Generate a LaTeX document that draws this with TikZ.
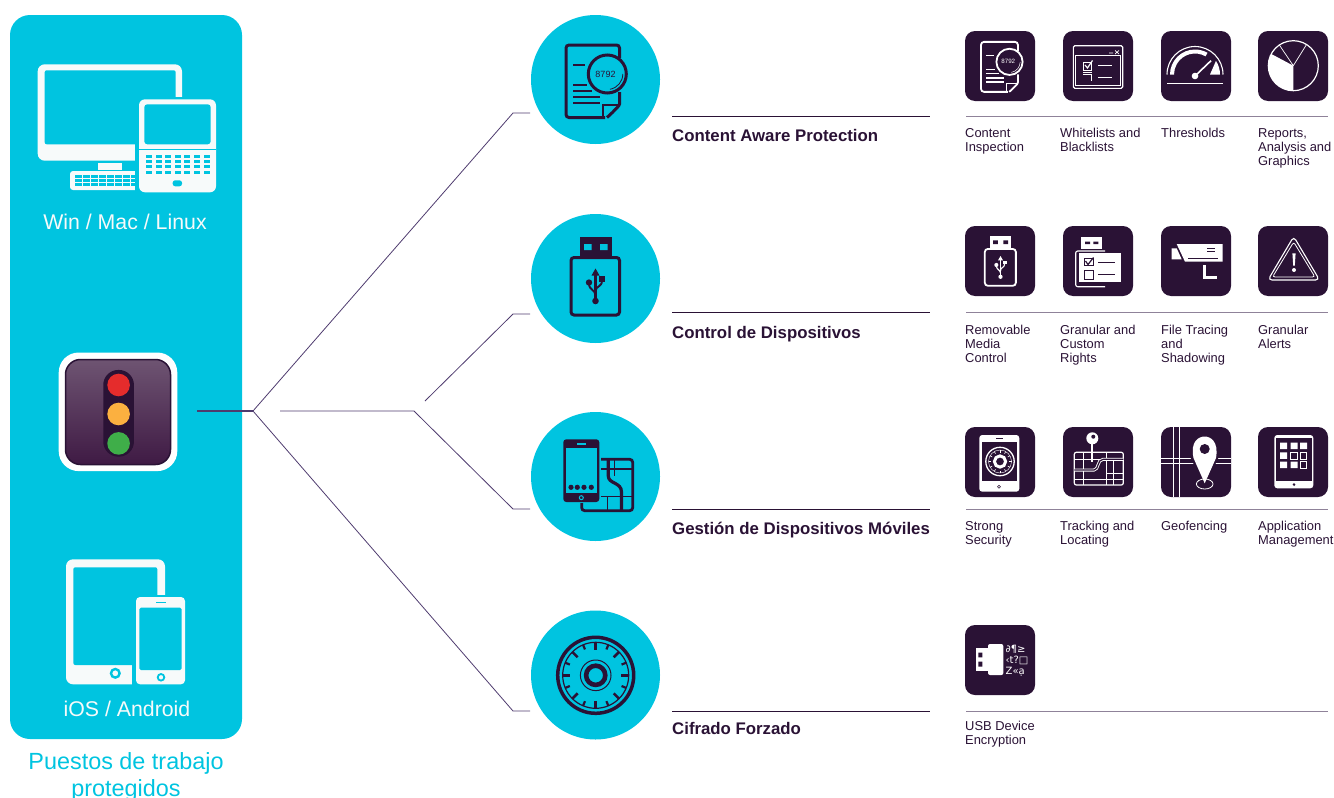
\documentclass[tikz,border=0pt]{standalone}
\usepackage{fontspec}
\setmainfont{Liberation Sans}
\newfontfamily\symfont{DejaVu Sans}
\usetikzlibrary{positioning}
\usetikzlibrary{calc}
\definecolor{brand_cyan}{HTML}{00C4E0}
\definecolor{brand_dark}{HTML}{2A1235}
\definecolor{line_purple}{HTML}{4E3B6E}
\definecolor{rule_grey}{HTML}{8F8299}
\definecolor{panel_ink}{HTML}{F7FAFA}
\definecolor{face_top}{HTML}{6E5472}
\definecolor{face_bottom}{HTML}{3F1A44}
\definecolor{lamp_r}{HTML}{E52C2C}
\definecolor{lamp_a}{HTML}{FBB040}
\definecolor{lamp_g}{HTML}{3FAE49}
\def\icw{1}
\colorlet{ink}{brand_dark}
\colorlet{paper}{brand_cyan}
\tikzset{
        % Line width and paint of the icons
        ic/.style={line width=#1*\icw pt},
        icon_w/.code={\def\icw{#1}},
        icon_paint/.code 2 args={\colorlet{ink}{#1}\colorlet{paper}{#2}},
        icon_big/.style={icon_paint={brand_dark}{brand_cyan},icon_w=1},
        icon_small/.style={icon_paint={white}{brand_dark},icon_w=0.6,scale=#1},
        % Left panel
        node_panel/.style={rectangle, fill=brand_cyan, rounded corners=20pt, minimum width=232pt, minimum height=724pt, inner sep=0pt},
        node_panel_text/.style={inner sep=0pt, text=panel_ink, font=\fontsize{21.3}{26}\selectfont},
        % Product circles
        node_circle/.style={circle, fill=brand_cyan, minimum size=129pt, inner sep=0pt},
        % Feature tiles
        node_tile/.style={rectangle, fill=brand_dark, rounded corners=10pt, minimum size=70pt, inner sep=0pt},
        % Traffic light lamps
        node_lamp/.style={circle, minimum size=22.6pt, inner sep=0pt},
        % Texts
        node_title/.style={anchor=base west, inner sep=0pt, text=brand_dark, font=\fontsize{16.8}{20}\bfseries\selectfont},
        node_caption/.style={anchor=north west, inner sep=0pt, align=left, text=brand_dark, font=\fontsize{12.9}{14}\selectfont},
        % Connectors
        line_main/.style={draw=line_purple, line width=0.8pt},
        line_stem/.style={draw=line_purple, line width=1.1pt},
        line_title/.style={draw=brand_dark, line width=0.7pt},
        line_rule/.style={draw=rule_grey, line width=0.8pt},
        % Document with lens
        doc_icon/.pic={
            \draw[ink, ic=3, rounded corners=3pt] (9,37.5) -- (-30,37.5) -- (-30,-35) -- (23.5,-35) -- (23.5,-22);
            \draw[ink, ic=3, rounded corners=1pt] (23.5,12) -- (23.5,25) .. controls (18,31) and (15,34) .. (11,37.5);
            \draw[ink, ic=2.2] (7,37) -- (7,25) -- (23.5,25);
            \foreach \ya/\xb in {-15/-11, 5/-9, 11/-4, 17/4, 23/4}
                \draw[ink, ic=2.8] (-23,\ya) -- (\xb,\ya);
            \draw[ink, fill=paper, ic=3] (11.3,-6) circle (19);
            \draw[ink, ic=0.8] (11.3,-6) ++(0:15.5) arc (0:80:15.5);
            \node[transform shape, inner sep=0pt, text=ink, font=\fontsize{9}{9}\selectfont] (digits) at (9.5,-6) {8792};
        },
        % USB stick
        usb_icon/.pic={
            \fill[ink] (-16,-41.5) rectangle (16,-21);
            \fill[paper] (-11.5,-34.5) rectangle (-4,-28.5) (4.5,-34.5) rectangle (12,-28.5);
            \draw[ink, ic=3, rounded corners=3pt] (-24.5,-21) rectangle (24,36.5);
            \draw[ink, ic=2.4] (0,-6) -- (0,22);
            \fill[ink] (0,-10) -- (-4,-3) -- (4,-3) -- cycle;
            \fill[ink] (0,22.5) circle (3.3) (-6.5,4) circle (3.2);
            \fill[ink] (3.7,-2.5) rectangle (9.5,3);
            \draw[ink, ic=1.9] (-6.5,5) .. controls (-6.5,12) and (0,11) .. (0,17);
            \draw[ink, ic=1.9] (6.5,2) .. controls (6.5,9) and (0,7) .. (0,13);
        },
        % Combination lock
        lock_icon/.pic={
            \draw[ink, ic=3.5] (0,0) circle (38);
            \draw[ink, ic=1.2] (0,0) circle (33);
            \foreach \a in {22.5,67.5,...,337.5}
                \draw[ink, ic=2.2] (\a:33) -- (\a:28);
            \foreach \a in {0,45,...,315}
                \draw[ink, ic=2.6] (\a:33) -- (\a:25.5);
            \draw[ink, ic=1] (0,0) circle (15.3);
            \draw[ink, ic=4.6] (0,0) circle (9.6);
        }
}

\begin{document}
\begin{tikzpicture}[x=1pt, y=-1pt]
    \useasboundingbox (0,0) rectangle (1334,798);

    % Left panel
    \node[node_panel] (panel) at (126,377) {};
    \node[node_panel_text] (desktop_label) at (125,222) {Win / Mac / Linux};
    \node[node_panel_text] (mobile_label) at (127,709) {iOS / Android};
    \node[inner sep=0pt, align=center, text=brand_cyan, font=\fontsize{23.4}{27}\selectfont] (panel_label) at (126,777) {Puestos de trabajo\\protegidos};

    % Monitor and keyboard
    \fill[panel_ink, rounded corners=7pt] (37.7,64.3) rectangle (182,160.7);
    \fill[brand_cyan, rounded corners=2pt] (44.7,70.3) rectangle (175.7,144.3);
    \fill[panel_ink] (98,163) rectangle (122,169.7);
    \fill[panel_ink, rounded corners=3pt] (70,171) rectangle (140,190);
    \foreach \ya in {175,179,183}
        \foreach \xa in {75,83,...,131}
            \fill[brand_cyan] (\xa,\ya) rectangle +(6.7,2.7);
    \fill[brand_cyan] (135,97) rectangle (222,196);
    % Notebook
    \fill[panel_ink, rounded corners=6pt] (139,99.3) rectangle (216,192.3);
    \fill[brand_cyan, rounded corners=3pt] (144.3,104.3) rectangle (210.7,144.3);
    \fill[brand_cyan] (139,149) rectangle (216,150);
    \foreach \ya in {154.7,160.2,165.2,171}
        \foreach \xa in {146,155.6,...,205}
            \fill[brand_cyan] (\xa,\ya) rectangle +(6,2.8);
    \fill[brand_cyan, rounded corners=2.5pt] (172.7,180.3) rectangle (182,186.3);

    % Traffic light
    \node[rectangle, fill=white, rounded corners=20pt, minimum size=118.6pt, inner sep=0pt] (agent_frame) at (118,411.8) {};
    \node[rectangle, draw=brand_dark, line width=1.5pt, top color=face_top, bottom color=face_bottom, rounded corners=15pt, minimum size=105pt, inner sep=0pt] (agent_face) at (118,412) {};
    \node[rectangle, fill=brand_dark, rounded corners=15pt, minimum width=30.7pt, minimum height=86.7pt, inner sep=0pt] (agent_housing) at (118.6,413.3) {};
    \node[node_lamp, fill=lamp_r] (lamp_red) at (118.6,385) {};
    \node[node_lamp, fill=lamp_a, below=6pt of lamp_red] (lamp_amber) {};
    \node[node_lamp, fill=lamp_g, below=6.4pt of lamp_amber] (lamp_green) {};

    % Tablet and phone
    \fill[panel_ink, rounded corners=7pt] (66,559.3) rectangle (165,684.3);
    \fill[brand_cyan, rounded corners=2pt] (73.3,567.3) rectangle (157.3,665);
    \fill[brand_cyan] (132,595) rectangle (190,690);
    \draw[brand_cyan, line width=2.4pt] (115.3,673.3) circle (4.3);
    \fill[panel_ink, rounded corners=4pt] (136,597) rectangle (185,684.3);
    \fill[brand_cyan, rounded corners=1.5pt] (139.3,607.7) rectangle (181.7,670);
    \draw[brand_cyan, line width=1.2pt] (156,602.7) -- (166,602.7);
    \draw[brand_cyan, line width=1.8pt] (161,677.3) circle (3.3);

    % Connectors
    \coordinate (stem_start) at (197,411);
    \coordinate (hub) at (253,411);
    \coordinate (branch_start) at (280,411);
    \coordinate (branch_knee) at (414,411);
    \coordinate (usb_start) at (425,401);
    \coordinate (bend_a) at (513,113);
    \coordinate (bend_b) at (513,314);
    \coordinate (bend_c) at (513,509);
    \coordinate (bend_d) at (513,711);
    \coordinate (lead_a) at (530,113);
    \coordinate (lead_b) at (530,314);
    \coordinate (lead_c) at (530,509);
    \coordinate (lead_d) at (530,711);
    \draw[line_stem] (stem_start) -- (hub);
    \draw[line_main] (hub) -- (bend_a) -- (lead_a);
    \draw[line_main] (hub) -- (bend_d) -- (lead_d);
    \draw[line_main] (usb_start) -- (bend_b) -- (lead_b);
    \draw[line_main] (branch_start) -- (branch_knee) -- (bend_c) -- (lead_c);

    % Product circles
    \foreach \cid/\cy in {a/79.5, b/278.5, c/476.5, d/675}
        \node[node_circle] (circle_\cid) at (595.5,\cy) {};
    \pic[icon_big] (doc_big) at (596,80) {doc_icon};
    \pic[icon_big] (usb_big) at (595.5,278.5) {usb_icon};
    \pic[icon_big] (lock_big) at (595.7,675.3) {lock_icon};

    % Phone and map
    \draw[brand_dark, line width=2.8pt, rounded corners=3pt] (601,459.3) -- (632.7,459.3) -- (632.7,510.7) -- (581.7,510.7) -- (581.7,503);
    \draw[brand_dark, line width=3.2pt] (608.3,459.3) -- (608.3,476) .. controls (608.3,484) and (621.5,482) .. (621.5,492) -- (621.5,510.7);
    \draw[brand_dark, line width=1.1pt] (601,469) -- (632.7,469) (614.3,459.3) -- (614.3,476) (601,496.7) -- (632.7,496.7) (607.3,496.7) -- (607.3,510.7);
    \fill[brand_dark, rounded corners=3pt] (563.3,439.3) rectangle (599.3,502);
    \fill[brand_cyan] (565.7,447.7) rectangle (597.3,493.3);
    \fill[brand_dark] (571,487.3) circle (2.6) (577.3,487.3) circle (2.6) (584,487.3) circle (2.6) (591.3,487.3) circle (2.6);
    \draw[brand_cyan, line width=1.2pt] (577,444) -- (586,444);
    \draw[brand_cyan, line width=1pt] (581.3,497.7) circle (2);

    % Header rules and texts
    \foreach \rid/\ry in {a/116, b/312, c/509, d/711} {
        \coordinate (title_start_\rid) at (672,\ry);
        \coordinate (title_end_\rid) at (930,\ry);
        \coordinate (rule_start_\rid) at (966,\ry);
        \coordinate (rule_end_\rid) at (1328,\ry);
        \draw[line_title] (title_start_\rid) -- (title_end_\rid);
        \draw[line_rule] (rule_start_\rid) -- (rule_end_\rid);
    }
    \node[node_title] (title_a) at (672,141) {Content Aware Protection};
    \node[node_title] (title_b) at (672,338) {Control de Dispositivos};
    \node[node_title] (title_c) at (672,534) {Gestión de Dispositivos Móviles};
    \node[node_title] (title_d) at (672,734) {Cifrado Forzado};

    % Feature tiles
    \foreach \rid/\ry in {a/66, b/261, c/462} {
        \node[node_tile] (tile_\rid 1) at (1000,\ry) {};
        \node[node_tile] (tile_\rid 2) at (1098,\ry) {};
        \node[node_tile] (tile_\rid 3) at (1196,\ry) {};
        \node[node_tile] (tile_\rid 4) at (1293,\ry) {};
    }
    \node[node_tile] (tile_d1) at (1000,660) {};

    % Captions
    \node[node_caption] (cap_a1) at (965,128.2) {Content\\Inspection};
    \node[node_caption] (cap_a2) at (1060,128.2) {Whitelists and\\Blacklists};
    \node[node_caption] (cap_a3) at (1161,128.2) {Thresholds};
    \node[node_caption] (cap_a4) at (1258,128.2) {Reports,\\Analysis and\\Graphics};
    \node[node_caption] (cap_b1) at (965,324.9) {Removable\\Media\\Control};
    \node[node_caption] (cap_b2) at (1060,324.9) {Granular and\\Custom\\Rights};
    \node[node_caption] (cap_b3) at (1161,324.9) {File Tracing\\and\\Shadowing};
    \node[node_caption] (cap_b4) at (1258,324.9) {Granular\\Alerts};
    \node[node_caption] (cap_c1) at (965,521.2) {Strong\\Security};
    \node[node_caption] (cap_c2) at (1060,521.2) {Tracking and\\Locating};
    \node[node_caption] (cap_c3) at (1161,521.2) {Geofencing};
    \node[node_caption] (cap_c4) at (1258,521.2) {Application\\Management};
    \node[node_caption] (cap_d1) at (965,721.2) {USB Device\\Encryption};

    % Content inspection
    \pic[icon_small=0.69] (doc_small) at (1001.7,66) {doc_icon};

    % Whitelists and blacklists
    \draw[white, line width=1.1pt, rounded corners=1.5pt] (1073.3,45.7) rectangle (1122.7,88.3);
    \draw[white, line width=0.5pt] (1075.7,55.7) rectangle (1120.7,85.7);
    \draw[white, line width=0.7pt] (1109,53) -- (1113,53) (1115,50.5) -- (1119,54) (1119,50.5) -- (1115,54);
    \draw[white, line width=0.8pt] (1083.5,62) rectangle (1091.5,70);
    \draw[white, line width=1.2pt] (1085,65) -- (1087.5,68) -- (1092.5,60.5);
    \draw[white, line width=0.9pt] (1083.3,72) -- (1091.7,72);
    \draw[white, line width=0.7pt] (1083.3,74) -- (1091.7,74) -- (1091.7,81);
    \draw[white, line width=0.7pt] (1098.3,65) -- (1111.7,65) (1098.3,77.3) -- (1111.7,77.3);

    % Thresholds
    \coordinate (gauge_c) at (1195,74.5);
    \draw[white, line width=1.1pt] (gauge_c) ++(-180:28) arc (-180:0:28);
    \fill[white] (gauge_c) ++(-180:25) arc (-180:-60:25) -- ([shift={(-60:21)}]gauge_c) arc (-60:-180:21) -- cycle;
    \fill[white] (gauge_c) ++(-33:25) arc (-33:0:25) -- ([shift={(0:15)}]gauge_c) -- cycle;
    \draw[white, line width=1.6pt] (1195,76) -- (1211,60.7);
    \fill[white] (1195,76) circle (3.3);
    \draw[white, line width=1pt] (1167.3,83.3) -- (1223.3,83.3);

    % Reports
    \coordinate (pie_c) at (1293.3,65.7);
    \draw[white, line width=1.2pt] (pie_c) circle (25);
    \fill[white] (pie_c) -- ++(-152:25) arc (-152:-270:25) -- cycle;
    \draw[white, line width=0.7pt] (pie_c) -- ++(-124:25) (pie_c) -- ++(-58:25);

    % Removable media control
    \pic[icon_small=0.64] (usb_small) at (1000.5,262.4) {usb_icon};

    % Granular and custom rights
    \fill[white] (1081,236.7) rectangle (1101.7,249.3);
    \fill[brand_dark] (1085,241.5) rectangle (1090,244) (1093.3,241.5) rectangle (1098.3,244);
    \draw[white, line width=1.1pt, rounded corners=2pt] (1105,251) -- (1075.7,251) -- (1075.7,286.7) -- (1105,286.7);
    \fill[white] (1079,253.3) rectangle (1120.7,282.3);
    \draw[brand_dark, line width=0.6pt] (1084.3,258.3) rectangle (1093.3,265.7) (1084.3,270.7) rectangle (1093.3,279.3);
    \draw[brand_dark, line width=1.2pt] (1085.5,261) -- (1088,264.5) -- (1093.5,257.5);
    \draw[brand_dark, line width=1.2pt] (1098.3,262.3) -- (1115,262.3) (1098.3,274.3) -- (1115,274.3);

    % File tracing and shadowing
    \fill[white] (1176.7,244) -- (1222.7,244) -- (1222.7,261.7) -- (1185,261.7) -- cycle;
    \fill[white] (1171.7,248.3) -- (1176.7,248.3) -- (1181.7,259.3) -- (1171.7,259.3) -- cycle;
    \draw[brand_dark, line width=0.7pt] (1207,248.3) -- (1215,248.3) (1207,251) -- (1215,251) (1188.3,258.3) -- (1218.3,258.3);
    \draw[white, line width=3pt] (1204.3,265) -- (1204.3,277.3) -- (1216.7,277.3);

    % Granular alerts
    \draw[white, line width=1.1pt, rounded corners=4pt] (1293.7,236.5) -- (1319.5,280) -- (1268,280) -- cycle;
    \draw[white, line width=0.8pt, rounded corners=2.5pt] (1293.7,242) -- (1315,277) -- (1272.5,277) -- cycle;
    \fill[white] (1292.4,253.3) -- (1295.6,253.3) -- (1294.8,265.5) -- (1293.2,265.5) -- cycle;
    \fill[white] (1294,270) circle (2);

    % Strong security
    \fill[white, rounded corners=3pt] (979.3,435) rectangle (1019.3,491.7);
    \fill[brand_dark] (981.7,441.7) rectangle (1017.3,481);
    \draw[brand_dark, line width=0.6pt] (996,438.2) -- (1003,438.2);
    \draw[brand_dark, line width=0.6pt] (999,486.7) circle (1.5);
    \draw[white, line width=1.3pt] (1000,461.5) circle (14.2);
    \draw[white, line width=0.4pt] (1000,461.5) circle (11.5);
    \foreach \a in {0,30,...,330}
        \draw[white, line width=0.6pt] (1000,461.5) ++(\a:11.5) -- ++(\a:-2.5);
    \draw[white, line width=3pt] (1000,461.5) circle (5.6);

    % Tracking and locating
    \draw[white, line width=1.2pt, rounded corners=2pt] (1074.3,452.3) rectangle (1123.3,485);
    \draw[white, line width=0.7pt] (1083.3,452.3) -- (1083.3,485) (1106.7,452.3) -- (1106.7,485) (1113,459.3) -- (1113,485);
    \draw[white, line width=0.7pt] (1074.3,459.3) -- (1123.3,459.3) (1074.3,479) -- (1123.3,479) (1106.7,473.3) -- (1123.3,473.3);
    \draw[white, line width=3pt] (1074.3,470) -- (1094,470) .. controls (1099,470) and (1097,459.3) .. (1103,459.3) -- (1123.3,459.3);
    \draw[brand_dark, line width=1.2pt] (1074.3,470) -- (1094,470) .. controls (1099,470) and (1097,459.3) .. (1103,459.3) -- (1123.3,459.3);
    \draw[white, line width=2pt] (1092.3,440) -- (1092.3,461.7);
    \fill[white] (1092.3,438.3) circle (6);
    \fill[brand_dark] (1093.3,436.7) circle (2);

    % Geofencing
    \draw[white, line width=0.9pt] (1173.3,427) -- (1173.3,497) (1179,427) -- (1179,497) (1161,458.3) -- (1231,458.3) (1161,463.3) -- (1231,463.3);
    \fill[brand_dark] (1204.7,485) -- (1191,459) .. controls (1187,440) and (1197,434.5) .. (1204.7,434.5) .. controls (1212,434.5) and (1222,440) .. (1218,459) -- cycle;
    \fill[white] (1204.7,483.3) -- (1193.5,458) .. controls (1190,441) and (1199,436.5) .. (1204.7,436.5) .. controls (1210,436.5) and (1219,441) .. (1216,458) -- cycle;
    \fill[brand_dark] (1204.7,449) circle (5);
    \draw[white, line width=0.8pt] (1204.7,484) ellipse (8.3 and 5);

    % Application management
    \fill[white, rounded corners=3pt] (1274.3,435) rectangle (1313.3,488.3);
    \fill[brand_dark] (1276,438.3) rectangle (1312,481);
    \fill[brand_dark] (1294,484.6) circle (1.4);
    \fill[white] (1280,442.7) rectangle +(7,6.5) (1290.7,442.7) rectangle +(7,6.5) (1300,442.7) rectangle +(7,6.5);
    \fill[white] (1280,452.3) rectangle +(7,6.5) (1280,461.7) rectangle +(7,6.5) (1290.7,461.7) rectangle +(7,6.5);
    \draw[white, line width=0.5pt] (1290.7,452.3) rectangle +(6.5,6.5) (1300,452.3) rectangle +(6.5,6.5) (1300,461.7) rectangle +(6.5,6.5);

    % USB device encryption
    \fill[white] (975.7,648.3) rectangle (990,670.7);
    \fill[white, rounded corners=2pt] (988,644) rectangle (1003.3,675);
    \fill[brand_dark] (978.3,652.7) rectangle (982.3,657.3) (978.3,661.7) rectangle (982.3,666.7);
    \node[inner sep=0pt, align=left, text=white, font=\symfont\fontsize{10}{11}\selectfont] (cipher_text) at (1017,660.5) {∂¶≥\\‹t?□\\Z«ạ};
\end{tikzpicture}
\end{document}
